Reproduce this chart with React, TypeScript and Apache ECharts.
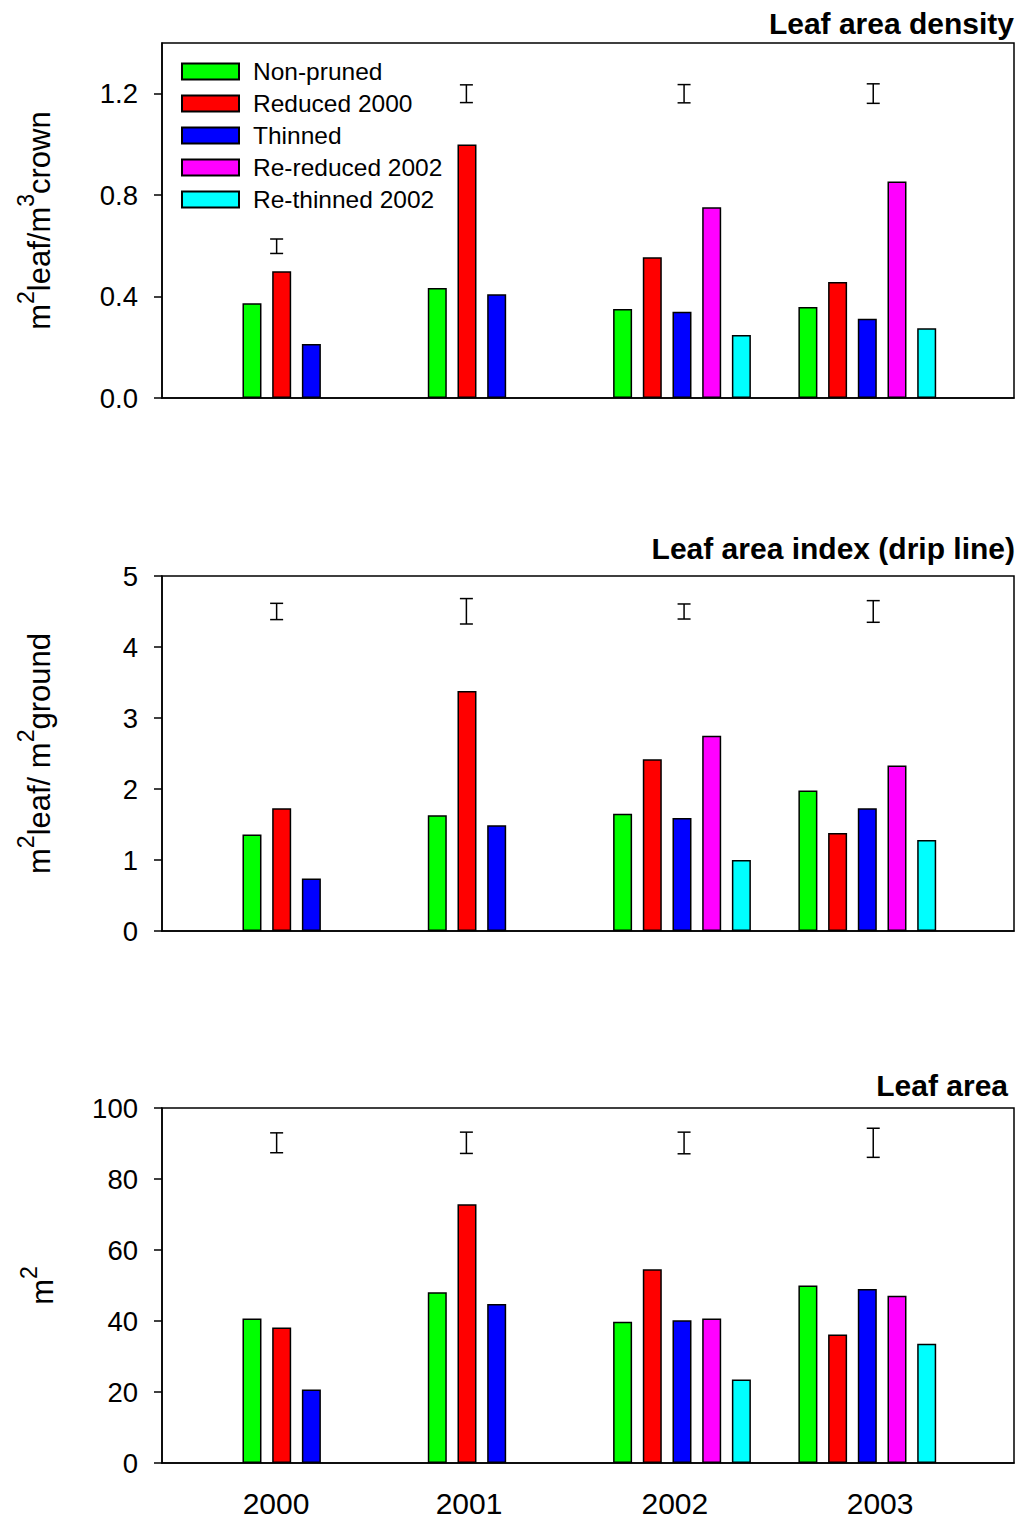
import React, { useEffect, useRef } from "react";
import * as echarts from "echarts";

// ---- Data ----
const seriesNames = ["Non-pruned", "Reduced 2000", "Thinned", "Re-reduced 2002", "Re-thinned 2002"];
const seriesColors = ["#00ff00", "#ff0000", "#0000ff", "#ff00ff", "#00ffff"];
const years = ["2000", "2001", "2002", "2003"];
// x positions (in bar-slot units) of the first bar of each year group
const groupStart = [3.03, 9.27, 15.51, 21.75];
const yearLabelPos = [3.84, 10.34, 17.27, 24.18];
const lsdPos = [3.86, 10.25, 17.58, 23.95];

// Leaf area density (m2 leaf / m3 crown)
const ladNonPruned = [0.374, 0.434, 0.351, 0.359];
const ladReduced = [0.5, 1.0, 0.555, 0.457];
const ladThinned = [0.213, 0.409, 0.34, 0.313];
const ladReReduced = [null, null, 0.752, 0.854];
const ladReThinned = [null, null, 0.248, 0.275];
const ladLsdLow = [0.57, 1.165, 1.164, 1.162];
const ladLsdHigh = [0.627, 1.235, 1.236, 1.239];

// Leaf area index (drip line)
const laiNonPruned = [1.36, 1.63, 1.65, 1.98];
const laiReduced = [1.73, 3.38, 2.42, 1.38];
const laiThinned = [0.74, 1.49, 1.59, 1.73];
const laiReReduced = [null, null, 2.75, 2.33];
const laiReThinned = [null, null, 1.0, 1.28];
const laiLsdLow = [4.386, 4.324, 4.394, 4.348];
const laiLsdHigh = [4.615, 4.682, 4.606, 4.653];

// Leaf area (m2)
const laNonPruned = [40.7, 48.1, 39.8, 50.0];
const laReduced = [38.2, 72.9, 54.6, 36.2];
const laThinned = [20.7, 44.8, 40.2, 49.0];
const laReReduced = [null, null, 40.7, 47.1];
const laReThinned = [null, null, 23.5, 33.6];
const laLsdLow = [87.4, 87.2, 87.1, 86.1];
const laLsdHigh = [93.0, 93.2, 93.2, 94.3];

const ladTicks = [0, 0.4, 0.8, 1.2];
const laiTicks = [0, 1, 2, 3, 4, 5];
const laTicks = [0, 20, 40, 60, 80, 100];

const panelTitles = ["Leaf area density", "Leaf area index (drip line)", "Leaf area"];

const FONT = "'Liberation Sans', Arial, Helvetica, sans-serif";

export default function App() {
  const ref = useRef<HTMLDivElement>(null);

  useEffect(() => {
    if (!ref.current) return;
    const chart = echarts.init(ref.current, null, { renderer: "svg" });

    const panels = [
      { vals: [ladNonPruned, ladReduced, ladThinned, ladReReduced, ladReThinned], lo: ladLsdLow, hi: ladLsdHigh },
      { vals: [laiNonPruned, laiReduced, laiThinned, laiReReduced, laiReThinned], lo: laiLsdLow, hi: laiLsdHigh },
      { vals: [laNonPruned, laReduced, laThinned, laReReduced, laReThinned], lo: laLsdLow, hi: laLsdHigh },
    ];

    const gridTops = [43, 576, 1108];
    const grids = gridTops.map((t) => ({
      left: 162,
      right: 5,
      top: t,
      height: 355,
      show: true,
      borderColor: "#000",
      borderWidth: 1.5,
      backgroundColor: "transparent",
    }));

    const xAxes = [0, 1, 2].map((p) => ({
      type: "value",
      gridIndex: p,
      min: 0,
      max: 28.69,
      axisLine: { show: true, onZero: false, lineStyle: { color: "#000", width: 1.5 } },
      axisTick: { show: false },
      splitLine: { show: false },
      axisLabel:
        p === 2
          ? {
              show: true,
              customValues: yearLabelPos,
              margin: 25,
              fontSize: 30,
              color: "#000",
              fontFamily: FONT,
              formatter: (v: number) => {
                const i = yearLabelPos.findIndex((q) => Math.abs(q - v) < 1e-6);
                return i >= 0 ? years[i] : "";
              },
            }
          : { show: false },
    }));

    const supRich = {
      n: { fontSize: 31, verticalAlign: "bottom", fontFamily: FONT, color: "#000" },
      s: { fontSize: 23, verticalAlign: "bottom", padding: [0, 0, 18, 0], fontFamily: FONT, color: "#000" },
    };

    const yDefs = [
      { max: 1.4, ticks: ladTicks, fmt: (v: number) => v.toFixed(1), name: "{n|m}{s|2}{n|leaf/m}{s|3}{n|crown}", gap: 107 },
      { max: 5, ticks: laiTicks, fmt: (v: number) => String(v), name: "{n|m}{s|2}{n|leaf/ m}{s|2}{n|ground}", gap: 107 },
      { max: 100, ticks: laTicks, fmt: (v: number) => String(v), name: "{n|m}{s|2}", gap: 104 },
    ];

    const yAxes = yDefs.map((d, p) => ({
      type: "value",
      gridIndex: p,
      min: 0,
      max: d.max,
      axisLine: { show: true, lineStyle: { color: "#000", width: 1.5 } },
      axisTick: { show: true, length: 8, customValues: d.ticks, lineStyle: { color: "#000", width: 1.5 } },
      axisLabel: {
        customValues: d.ticks,
        formatter: d.fmt,
        fontSize: 27.5,
        color: "#000",
        fontFamily: FONT,
        margin: 24,
      },
      splitLine: { show: false },
      name: d.name,
      nameLocation: "middle",
      nameRotate: 90,
      nameGap: d.gap,
      nameTextStyle: { rich: supRich, fontFamily: FONT, color: "#000" },
    }));

    const series: any[] = [];
    panels.forEach((panel, p) => {
      panel.vals.forEach((vals, s) => {
        const data: number[][] = [];
        vals.forEach((v, i) => {
          if (v != null) data.push([groupStart[i] + s, v as number]);
        });
        series.push({
          type: "bar",
          name: seriesNames[s],
          xAxisIndex: p,
          yAxisIndex: p,
          barWidth: 19,
          barGap: "-100%",
          data,
          itemStyle: { color: seriesColors[s], borderColor: "#000", borderWidth: 1.5 },
          emphasis: { disabled: true },
        });
      });
      series.push({
        type: "custom",
        name: "LSD" + p,
        xAxisIndex: p,
        yAxisIndex: p,
        data: lsdPos.map((x, i) => [x, panel.lo[i], panel.hi[i]]),
        encode: { x: 0, y: [1, 2] },
        renderItem: (params: any, api: any) => {
          const x = api.value(0);
          const a = api.coord([x, api.value(1)]);
          const b = api.coord([x, api.value(2)]);
          const half = 6.5;
          const st = { stroke: "#000", lineWidth: 1.5 };
          return {
            type: "group",
            children: [
              { type: "line", shape: { x1: a[0], y1: a[1], x2: b[0], y2: b[1] }, style: st },
              { type: "line", shape: { x1: a[0] - half, y1: a[1], x2: a[0] + half, y2: a[1] }, style: st },
              { type: "line", shape: { x1: b[0] - half, y1: b[1], x2: b[0] + half, y2: b[1] }, style: st },
            ],
          };
        },
      });
    });

    const option: any = {
      animation: false,
      backgroundColor: "#fff",
      title: [
        { text: panelTitles[0], right: 5, top: 8 },
        { text: panelTitles[1], right: 4, top: 533 },
        { text: panelTitles[2], right: 11, top: 1070 },
      ].map((t) => ({
        ...t,
        padding: 0,
        textStyle: { fontSize: 30, fontWeight: "bold", color: "#000", fontFamily: FONT },
      })),
      legend: {
        data: seriesNames,
        orient: "vertical",
        left: 181,
        top: 59,
        padding: 0,
        itemWidth: 57,
        itemHeight: 16,
        itemGap: 7,
        icon: "rect",
        selectedMode: false,
        textStyle: { fontSize: 24.5, color: "#000", fontFamily: FONT, padding: [0, 0, 0, 9] },
      },
      grid: grids,
      xAxis: xAxes,
      yAxis: yAxes,
      series,
    };

    chart.setOption(option);
    return () => chart.dispose();
  }, []);

  return (
    <div
      ref={ref}
      style={{ position: "absolute", left: 0, top: 0, width: 1019, height: 1518, background: "#fff" }}
    />
  );
}
